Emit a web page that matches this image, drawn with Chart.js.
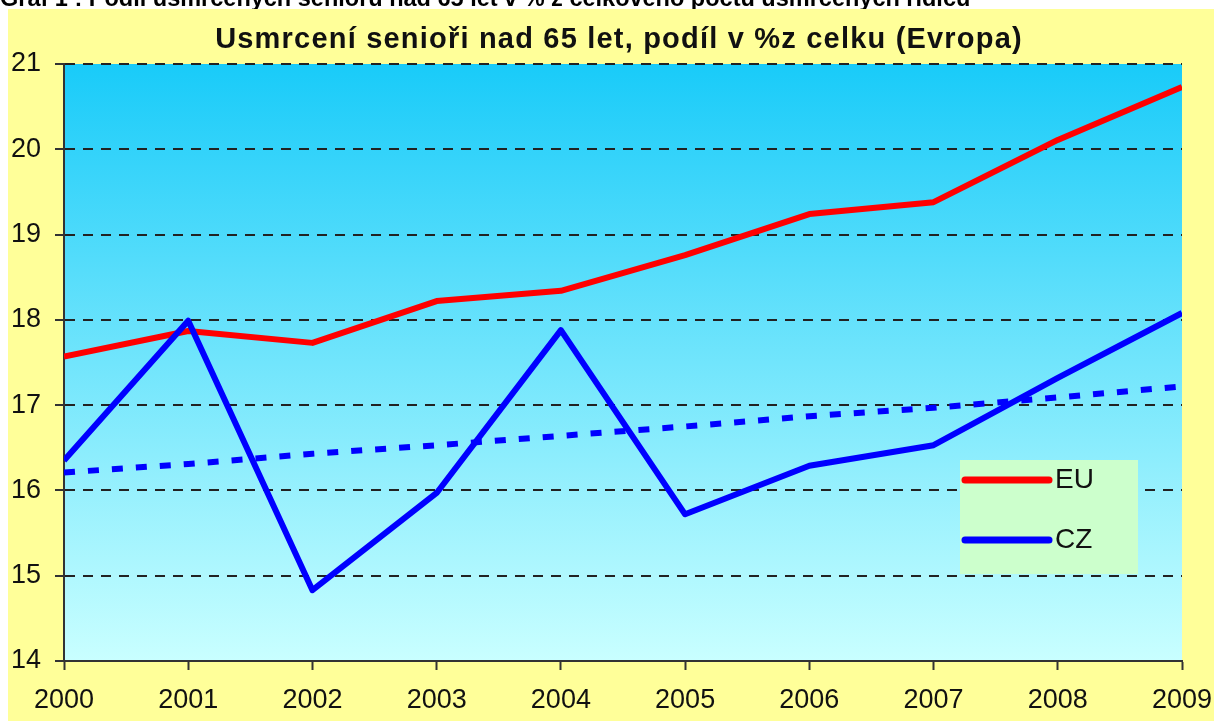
<!DOCTYPE html>
<html>
<head>
<meta charset="utf-8">
<script src="https://cdn.jsdelivr.net/npm/chart.js@4"></script>
<style>
html,body{margin:0;padding:0;background:#fff;}
#wrap{position:absolute;left:0;top:0;width:1214px;height:724px;}
#top{position:absolute;left:0;top:0;width:1214px;height:9px;overflow:hidden;}
#top span{position:absolute;left:0;top:-13px;font:bold 23.5px "Liberation Sans",Arial,sans-serif;white-space:nowrap;color:#000;line-height:23px;}
</style>
</head>
<body>
<div id="wrap"><canvas id="graf" width="1214" height="724"></canvas></div>
<div id="top"><span>Graf 1 : Podíl usmrcených seniorů nad 65 let v % z celkového počtu usmrcených řidičů</span></div>
<script>
// roky a hodnoty
const years = ['2000','2001','2002','2003','2004','2005','2006','2007','2008','2009'];
const euValues = [17.57, 17.87, 17.73, 18.22, 18.34, 18.76, 19.24, 19.38, 20.11, 20.73];
const czValues = [16.35, 17.99, 14.83, 15.97, 17.88, 15.72, 16.29, 16.53, 17.32, 18.08];
const czTrend = [16.21, 16.31, 16.43, 16.53, 16.64, 16.75, 16.87, 16.97, 17.09, 17.22];
const yTicks = [14, 15, 16, 17, 18, 19, 20, 21];
const chartTitle = 'Usmrcení senioři nad 65 let, podíl v %z celku (Evropa)';

const fontFam = '"Liberation Sans", Arial, sans-serif';

// pozadí: žlutý panel + modrý přechod v ploše grafu
const background = {
    id: 'background',
    beforeDraw(chart){
        const {ctx, chartArea: a} = chart;
        ctx.save();
        ctx.fillStyle = '#ffffff';
        ctx.fillRect(0, 0, chart.width, chart.height);
        ctx.fillStyle = '#ffff99';
        ctx.fillRect(8, 9, chart.width - 8, chart.height - 12);
        const g = ctx.createLinearGradient(0, a.top, 0, a.bottom);
        g.addColorStop(0, '#19cbf9');
        g.addColorStop(1, '#c9ffff');
        ctx.fillStyle = g;
        ctx.fillRect(a.left, a.top, a.right - a.left, a.bottom - a.top);

        // nadpis
        ctx.fillStyle = '#111';
        ctx.font = 'bold 29px ' + fontFam;
        ctx.letterSpacing = '1.2px';
        ctx.textAlign = 'center';
        ctx.textBaseline = 'middle';
        ctx.fillText(chartTitle, (a.left + a.right) / 2 - 4, a.top - 24);
        ctx.restore();
    }
};

// legenda v zeleném rámečku
const boxLegend = {
    id: 'boxLegend',
    afterDraw(chart){
        const {ctx, chartArea: a} = chart;
        const x = a.right - 222, y = a.bottom - 201, w = 178, h = 114;
        ctx.save();
        ctx.fillStyle = '#ccffcc';
        ctx.fillRect(x, y, w, h);
        const items = [['EU', '#ff0000', y + 20], ['CZ', '#0000ff', y + 80]];
        items.forEach(([label, color, ly])=>{
            ctx.strokeStyle = color;
            ctx.lineWidth = 7;
            ctx.lineCap = 'round';
            ctx.beginPath();
            ctx.moveTo(x + 5, ly);
            ctx.lineTo(x + 89, ly);
            ctx.stroke();
            ctx.fillStyle = '#111';
            ctx.font = '28px ' + fontFam;
            ctx.textBaseline = 'middle';
            ctx.fillText(label, x + 95, ly);
        });
        ctx.restore();
    }
};

new Chart(document.getElementById('graf'), {
    type: 'line',
    data: {
        labels: years,
        datasets: [
            { label: 'EU', data: euValues, borderColor: '#ff0000', borderWidth: 6, order: 3, clip: 0, borderJoinStyle: 'round' },
            { label: 'CZ trend', data: czTrend, borderColor: '#0000ff', borderWidth: 6, borderDash: [11, 13], order: 2, clip: 0 },
            { label: 'CZ', data: czValues, borderColor: '#0000ff', borderWidth: 6, order: 1, clip: 0, borderJoinStyle: 'round' }
        ]
    },
    options: {
        responsive: false,
        animation: false,
        layout: { padding: { left: 0, right: 32, top: 64, bottom: 0 } },
        elements: { point: { radius: 0 }, line: { tension: 0, fill: false } },
        plugins: {
            legend: { display: false },
            tooltip: { enabled: false },
            title: { display: false }
        },
        scales: {
            x: {
                offset: false,
                afterFit(scale){ scale.height = 63; scale.paddingLeft = 0; scale.paddingRight = 0; },
                grid: { drawOnChartArea: false, drawTicks: true, tickLength: 9, tickColor: '#333', tickWidth: 2 },
                border: { display: true, color: '#333', width: 2 },
                ticks: { color: '#111', padding: 14, maxRotation: 0, font: { family: fontFam, size: 27 } }
            },
            y: {
                min: yTicks[0],
                max: yTicks[yTicks.length - 1],
                afterFit(scale){ scale.width = 64; },
                afterBuildTicks(scale){ scale.ticks = yTicks.map(v=>({ value: v })); },
                grid: { color: '#222', lineWidth: 2, tickLength: 9, tickColor: '#333', tickWidth: 2, tickBorderDash: [] },
                border: { display: true, color: '#333', width: 2, dash: [10, 8] },
                ticks: { color: '#111', padding: 14, font: { family: fontFam, size: 27 } }
            }
        }
    },
    plugins: [background, boxLegend]
});
</script>
</body>
</html>
